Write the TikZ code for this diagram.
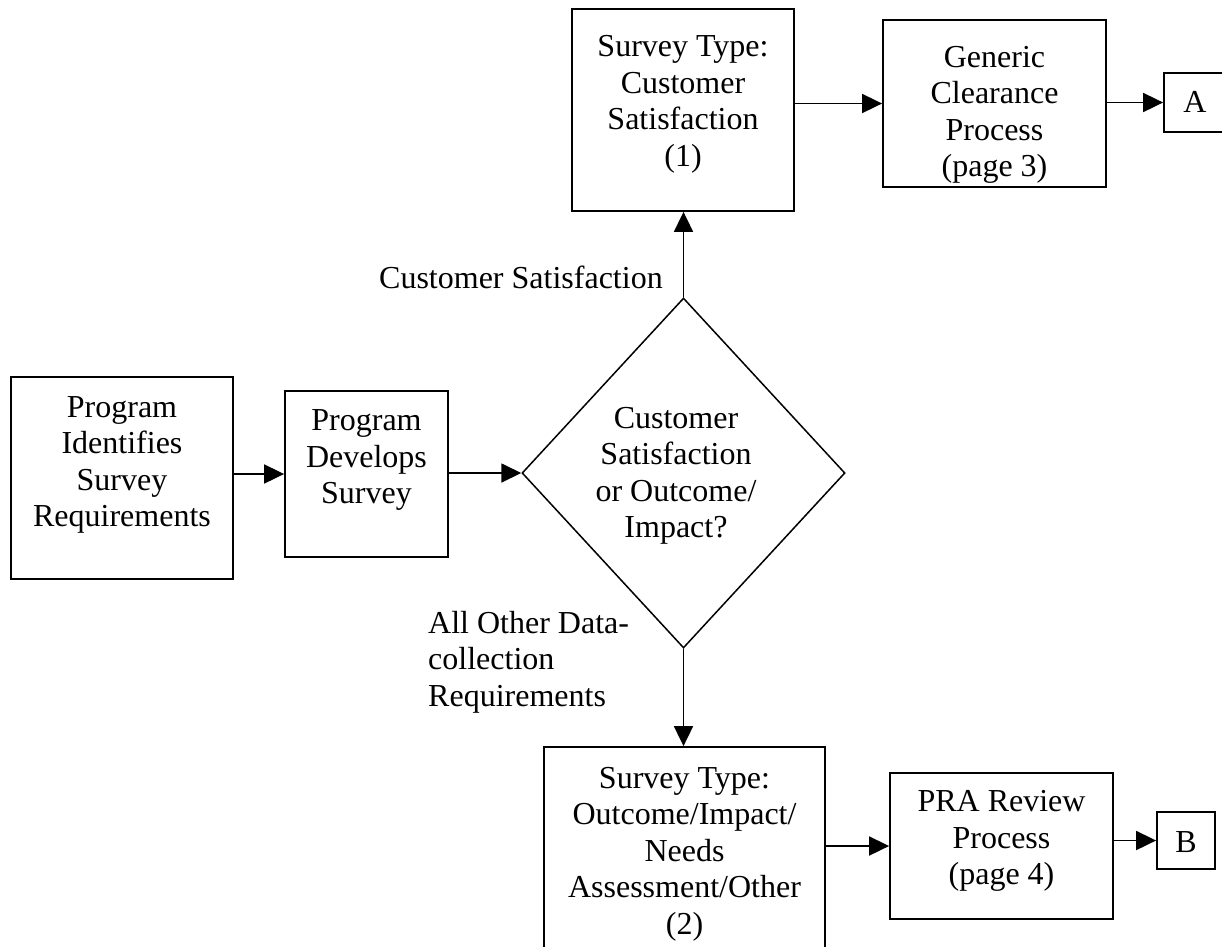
\documentclass[tikz,border=0pt]{standalone}
\usepackage{fontspec}
\setmainfont{Liberation Serif}
\usetikzlibrary{arrows.meta,shapes.geometric}
\newcommand{\fsz}{\fontsize{32pt}{36.5pt}\selectfont}
\newcommand{\boxtext}[2]{\raisebox{#1}[\height][\depth]{\begin{tabular}{@{}c@{}}#2\end{tabular}}}
\tikzset{
  box/.style={draw, rectangle, line width=1.8pt, inner sep=0pt, font=\fsz},
  dia/.style={draw, diamond, line width=1.5pt, inner sep=0pt, font=\fsz},
  lbl/.style={inner sep=0pt, font=\fsz},
  arr/.style={line width=1.8pt, -{Triangle[length=20pt,width=19pt]}}
}
\begin{document}
\begin{tikzpicture}[x=1pt,y=-1pt]
\useasboundingbox (0,0) rectangle (1222,946);
\fill[white] (0,0) rectangle (1222,946);
\clip (0,0) rectangle (1222,946);

\node[box, minimum width=222pt, minimum height=202pt] (req) at (122,478)
  {\boxtext{13.5pt}{Program\\Identifies\\Survey\\Requirements}};
\node[box, minimum width=163pt, minimum height=166pt] (dev) at (366.5,474)
  {\boxtext{14pt}{Program\\Develops\\Survey}};
\node[dia, minimum width=323pt, minimum height=350pt] (dec) at (683.5,473)
  {\boxtext{-2.5pt}{Customer\\Satisfaction\\or Outcome/\\Impact?}\kern15pt};
\node[box, minimum width=222pt, minimum height=202pt] (cs) at (683,110)
  {\boxtext{6pt}{Survey Type:\\Customer\\Satisfaction\\(1)}};
\node[box, minimum width=223pt, minimum height=167pt] (gc) at (994.5,103.5)
  {\boxtext{-11pt}{Generic\\Clearance\\Process\\(page 3)}};
\node[box, minimum width=62pt, minimum height=59pt] (A) at (1195,102.5)
  {\boxtext{-3pt}{A}};
\node[box, minimum width=281pt, minimum height=214pt] (oi) at (684.5,854)
  {\boxtext{0pt}{Survey Type:\\Outcome/Impact/\\Needs\\Assessment/Other\\(2)}};
\node[box, minimum width=223pt, minimum height=146pt] (pra) at (1001.5,846)
  {\boxtext{5pt}{PRA Review\\Process\\(page 4)}};
\node[box, minimum width=58pt, minimum height=57pt] (B) at (1186,840.5)
  {\boxtext{-5pt}{B}};

\node[lbl, anchor=base west] (lcs) at (379,288) {Customer Satisfaction};
\node[lbl, anchor=base west] (lother) at (428,633)
  {\begin{tabular}[t]{@{}l@{}}All Other Data-\\collection\\Requirements\end{tabular}};

\draw[arr] (dev.west -| req.east) -- (dev.west);
\draw[arr] (dec.west -| dev.east) -- (dec.west);
\draw[arr] (dec.north) -- (dec.north |- cs.south);
\draw[arr] (dec.south) -- (dec.south |- oi.north);
\draw[arr] (gc.west -| cs.east) -- (gc.west);
\draw[arr] (A.west -| gc.east) -- (A.west);
\draw[arr] (pra.west -| oi.east) -- (pra.west);
\draw[arr] (B.west -| pra.east) -- (B.west);
\end{tikzpicture}
\end{document}
